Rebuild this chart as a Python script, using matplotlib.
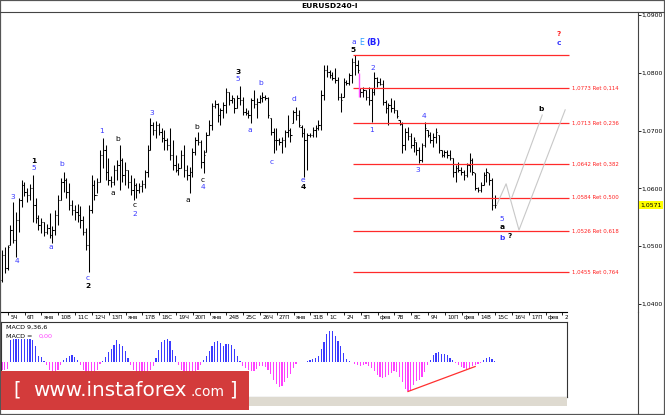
import numpy as np
import matplotlib
matplotlib.use("Agg")
import matplotlib.pyplot as plt
import matplotlib.transforms as mtransforms
from matplotlib.patches import Rectangle
from matplotlib.lines import Line2D

# ---------------- 4H bars, EURUSD ----------------
opens = [1.0442, 1.0485, 1.0462, 1.0502, 1.0528, 1.0511, 1.0545, 1.0580, 1.0606, 1.0594,
         1.0589, 1.0601, 1.0571, 1.0549, 1.0537, 1.0542, 1.0525, 1.0532, 1.0519, 1.0528,
         1.0554, 1.0580, 1.0611, 1.0615, 1.0594, 1.0571, 1.0563, 1.0559, 1.0554, 1.0545,
         1.0525, 1.0502, 1.0563, 1.0606, 1.0589, 1.0611, 1.0658, 1.0666, 1.0628, 1.0615,
         1.0611, 1.0632, 1.0641, 1.0649, 1.0623, 1.0632, 1.0611, 1.0597, 1.0606, 1.0597,
         1.0604, 1.0608, 1.0628, 1.0666, 1.0710, 1.0701, 1.0710, 1.0698, 1.0687, 1.0684,
         1.0675, 1.0658, 1.0641, 1.0632, 1.0635, 1.0658, 1.0632, 1.0623, 1.0628, 1.0663,
         1.0684, 1.0680, 1.0646, 1.0663, 1.0692, 1.0710, 1.0743, 1.0746, 1.0727, 1.0736,
         1.0744, 1.0767, 1.0753, 1.0756, 1.0739, 1.0756, 1.0753, 1.0732, 1.0730, 1.0727,
         1.0753, 1.0746, 1.0749, 1.0756, 1.0758, 1.0756, 1.0722, 1.0698, 1.0684, 1.0684,
         1.0680, 1.0684, 1.0698, 1.0701, 1.0713, 1.0732, 1.0727, 1.0706, 1.0696, 1.0684,
         1.0692, 1.0692, 1.0701, 1.0705, 1.0710, 1.0762, 1.0805, 1.0801, 1.0796, 1.0791,
         1.0788, 1.0758, 1.0758, 1.0784, 1.0782, 1.0796, 1.0819, 1.0814, 1.0774, 1.0767,
         1.0770, 1.0758, 1.0753, 1.0767, 1.0791, 1.0784, 1.0781, 1.0749, 1.0739, 1.0744,
         1.0739, 1.0736, 1.0718, 1.0711, 1.0675, 1.0698, 1.0691, 1.0675, 1.0680, 1.0666,
         1.0649, 1.0675, 1.0701, 1.0692, 1.0684, 1.0689, 1.0692, 1.0666, 1.0658, 1.0663,
         1.0658, 1.0653, 1.0628, 1.0635, 1.0632, 1.0628, 1.0623, 1.0641, 1.0649, 1.0627,
         1.0601, 1.0597, 1.0606, 1.0623, 1.0627, 1.0615, 1.0571]
highs = [1.0493, 1.0499, 1.0502, 1.0537, 1.0576, 1.0559, 1.0583, 1.0615, 1.0611, 1.0601,
         1.0608, 1.0623, 1.0583, 1.0554, 1.0549, 1.0542, 1.0538, 1.0557, 1.0535, 1.0563,
         1.0589, 1.0618, 1.0628, 1.0618, 1.0609, 1.0580, 1.0571, 1.0573, 1.0570, 1.0552,
         1.0532, 1.0571, 1.0623, 1.0615, 1.0618, 1.0666, 1.0687, 1.0675, 1.0653, 1.0621,
         1.0641, 1.0649, 1.0675, 1.0653, 1.0646, 1.0632, 1.0623, 1.0618, 1.0609, 1.0609,
         1.0615, 1.0632, 1.0675, 1.0722, 1.0715, 1.0717, 1.0713, 1.0705, 1.0701, 1.0687,
         1.0705, 1.0684, 1.0658, 1.0644, 1.0666, 1.0675, 1.0641, 1.0637, 1.0670, 1.0689,
         1.0698, 1.0684, 1.0666, 1.0698, 1.0718, 1.0748, 1.0753, 1.0748, 1.0739, 1.0749,
         1.0774, 1.0767, 1.0762, 1.0756, 1.0762, 1.0777, 1.0758, 1.0739, 1.0736, 1.0756,
         1.0770, 1.0756, 1.0762, 1.0767, 1.0762, 1.0758, 1.0722, 1.0705, 1.0705, 1.0687,
         1.0689, 1.0701, 1.0727, 1.0705, 1.0736, 1.0741, 1.0736, 1.0710, 1.0705, 1.0696,
         1.0696, 1.0706, 1.0710, 1.0718, 1.0770, 1.0814, 1.0814, 1.0805, 1.0801, 1.0808,
         1.0793, 1.0765, 1.0791, 1.0788, 1.0800, 1.0826, 1.0831, 1.0822, 1.0774, 1.0775,
         1.0770, 1.0775, 1.0774, 1.0801, 1.0793, 1.0791, 1.0788, 1.0753, 1.0748, 1.0756,
         1.0753, 1.0736, 1.0718, 1.0715, 1.0705, 1.0706, 1.0696, 1.0689, 1.0680, 1.0672,
         1.0679, 1.0715, 1.0701, 1.0698, 1.0696, 1.0705, 1.0692, 1.0666, 1.0666, 1.0666,
         1.0666, 1.0653, 1.0641, 1.0646, 1.0637, 1.0632, 1.0644, 1.0661, 1.0653, 1.0627,
         1.0602, 1.0611, 1.0628, 1.0635, 1.0627, 1.0618, 1.0589]
lows = [1.0438, 1.0454, 1.0459, 1.0502, 1.0506, 1.0481, 1.0525, 1.0568, 1.0587, 1.0576,
        1.0580, 1.0542, 1.0540, 1.0528, 1.0523, 1.0518, 1.0521, 1.0514, 1.0506, 1.0519,
        1.0537, 1.0580, 1.0594, 1.0583, 1.0563, 1.0554, 1.0545, 1.0542, 1.0532, 1.0519,
        1.0493, 1.0455, 1.0557, 1.0580, 1.0592, 1.0611, 1.0635, 1.0615, 1.0606, 1.0602,
        1.0606, 1.0615, 1.0597, 1.0611, 1.0606, 1.0601, 1.0589, 1.0580, 1.0583, 1.0592,
        1.0594, 1.0601, 1.0620, 1.0666, 1.0692, 1.0687, 1.0692, 1.0680, 1.0666, 1.0666,
        1.0649, 1.0632, 1.0628, 1.0623, 1.0635, 1.0620, 1.0615, 1.0592, 1.0620, 1.0658,
        1.0675, 1.0635, 1.0627, 1.0663, 1.0692, 1.0701, 1.0739, 1.0715, 1.0710, 1.0722,
        1.0730, 1.0744, 1.0748, 1.0730, 1.0739, 1.0744, 1.0727, 1.0727, 1.0722, 1.0713,
        1.0739, 1.0722, 1.0748, 1.0749, 1.0753, 1.0722, 1.0692, 1.0661, 1.0666, 1.0675,
        1.0661, 1.0672, 1.0689, 1.0680, 1.0713, 1.0718, 1.0706, 1.0689, 1.0620, 1.0632,
        1.0689, 1.0689, 1.0689, 1.0701, 1.0701, 1.0753, 1.0793, 1.0791, 1.0788, 1.0782,
        1.0753, 1.0732, 1.0758, 1.0779, 1.0779, 1.0782, 1.0796, 1.0800, 1.0758, 1.0758,
        1.0753, 1.0744, 1.0715, 1.0762, 1.0775, 1.0779, 1.0744, 1.0730, 1.0710, 1.0732,
        1.0730, 1.0722, 1.0710, 1.0661, 1.0666, 1.0684, 1.0670, 1.0663, 1.0658, 1.0644,
        1.0646, 1.0672, 1.0689, 1.0679, 1.0672, 1.0679, 1.0661, 1.0654, 1.0654, 1.0653,
        1.0649, 1.0620, 1.0611, 1.0628, 1.0623, 1.0615, 1.0620, 1.0628, 1.0623, 1.0597,
        1.0594, 1.0594, 1.0606, 1.0611, 1.0606, 1.0563, 1.0566]
closes = [1.0485, 1.0462, 1.0499, 1.0528, 1.0511, 1.0545, 1.0580, 1.0606, 1.0594, 1.0589,
          1.0601, 1.0571, 1.0549, 1.0537, 1.0542, 1.0525, 1.0532, 1.0519, 1.0528, 1.0554,
          1.0580, 1.0611, 1.0615, 1.0594, 1.0571, 1.0563, 1.0559, 1.0554, 1.0545, 1.0525,
          1.0502, 1.0563, 1.0606, 1.0589, 1.0611, 1.0658, 1.0666, 1.0628, 1.0615, 1.0611,
          1.0632, 1.0641, 1.0649, 1.0623, 1.0632, 1.0611, 1.0597, 1.0606, 1.0597, 1.0604,
          1.0608, 1.0628, 1.0666, 1.0710, 1.0701, 1.0710, 1.0698, 1.0687, 1.0684, 1.0675,
          1.0658, 1.0641, 1.0632, 1.0635, 1.0658, 1.0632, 1.0623, 1.0628, 1.0663, 1.0684,
          1.0680, 1.0646, 1.0658, 1.0692, 1.0710, 1.0743, 1.0746, 1.0727, 1.0736, 1.0744,
          1.0767, 1.0753, 1.0756, 1.0739, 1.0756, 1.0753, 1.0732, 1.0730, 1.0727, 1.0753,
          1.0746, 1.0749, 1.0756, 1.0758, 1.0756, 1.0727, 1.0698, 1.0684, 1.0684, 1.0680,
          1.0684, 1.0698, 1.0701, 1.0692, 1.0732, 1.0727, 1.0710, 1.0696, 1.0684, 1.0692,
          1.0692, 1.0701, 1.0705, 1.0710, 1.0762, 1.0805, 1.0801, 1.0796, 1.0791, 1.0788,
          1.0758, 1.0753, 1.0784, 1.0782, 1.0796, 1.0819, 1.0814, 1.0805, 1.0767, 1.0770,
          1.0758, 1.0753, 1.0767, 1.0791, 1.0784, 1.0781, 1.0749, 1.0739, 1.0744, 1.0739,
          1.0736, 1.0725, 1.0711, 1.0675, 1.0698, 1.0691, 1.0675, 1.0684, 1.0666, 1.0649,
          1.0675, 1.0705, 1.0692, 1.0684, 1.0689, 1.0698, 1.0666, 1.0658, 1.0663, 1.0658,
          1.0653, 1.0628, 1.0635, 1.0632, 1.0628, 1.0623, 1.0641, 1.0649, 1.0628, 1.0601,
          1.0597, 1.0606, 1.0623, 1.0628, 1.0615, 1.0571, 1.0571]

# MACD(9,36,6) histogram, in 1e-5 units
macd_hist = [-32, -32, -28, 88, 92, 92, 92, 92, 92, 92, 92, 88, 64, 24, 20, 4,
             -12, -32, -36, -36, -32, -12,
             8, 16, 24, 28, 20, 8,
             -12, -32, -40, -44, -40, -36, -32, -8,
             4, 20, 40, 52, 68, 88, 72, 64, 44, 16,
             -12, -32, -40, -44, -48, -44, -40, -32, -16,
             16, 48, 80, 88, 92, 84, 48, 24,
             -12, -32, -40, -44, -48, -44, -40, -32, -12,
             8, 24, 44, 64, 80, 84, 76, 64, 72, 72, 68, 52, 24, 4,
             -16, -24, -32, -36, -36, -28, -16, -16, -20, -32, -48, -72, -88, -100, -96,
             -80, -64, -48, -24, -8,
             0, 0, 0, 4, 8, 12, 16, 24, 52, 80, 112, 124, 124, 104, 84, 64, 36, 12, 4, 0,
             -8, -12, -16, -12, -8, -16, -24, -36, -52, -60, -64, -60, -52, -44, -36, -40,
             -60, -80, -108, -116, -112, -92, -76, -72, -60, -40, -12,
             8, 28, 36, 40, 32, 32, 28, 16, 8,
             -4, -12, -20, -24, -28, -24, -16, -12, -8, -4,
             8, 16, 20, 12, 4]

day_labels = ["5Ч", "6П", "янв", "10В", "11С", "12Ч", "13П", "янв", "17В", "18С", "19Ч",
              "20П", "янв", "24В", "25С", "26Ч", "27П", "янв", "31В", "1С", "2Ч", "3П",
              "фев", "7В", "8С", "9Ч", "10П", "фев", "14В", "15С", "16Ч", "17П", "фев", "2"]

# fibonacci retracement of the last decline
fib_top = 1.0830
fib_levels = [1.0773, 1.0713, 1.0642, 1.0584, 1.0526, 1.0455]
fib_ratios = ["0,114", "0,236", "0,382", "0,500", "0,618", "0,764"]

# projected path (bar index, price)
proj_a_x = [176.8, 180.0, 184.6, 201.1]
proj_a_y = [1.0573, 1.0608, 1.0528, 1.0736]
proj_b_x = [182.1, 192.9]
proj_b_y = [1.0585, 1.0727]

BLUE = "#3a3aff"
BLK = "black"
# wave marks: bar index, price, text, colour, bold
waves = [
    (3.9, 1.0585, "3", BLUE, False), (5.4, 1.0474, "4", BLUE, False),
    (11.4, 1.0647, "1", BLK, True), (11.4, 1.0635, "5", BLUE, False),
    (21.4, 1.0642, "b", BLUE, False), (17.5, 1.0499, "a", BLUE, False),
    (30.7, 1.0445, "c", BLUE, False), (30.7, 1.0432, "2", BLK, True),
    (35.4, 1.0699, "1", BLUE, False), (41.4, 1.0685, "b", BLK, False),
    (39.6, 1.0592, "a", BLK, False), (47.5, 1.0572, "c", BLK, False),
    (47.5, 1.0556, "2", BLUE, False), (53.6, 1.0730, "3", BLUE, False),
    (66.4, 1.0580, "a", BLK, False), (69.6, 1.0706, "b", BLK, False),
    (71.8, 1.0615, "c", BLK, False), (71.8, 1.0602, "4", BLUE, False),
    (84.3, 1.0801, "3", BLK, True), (84.3, 1.0789, "5", BLUE, False),
    (88.6, 1.0701, "a", BLUE, False), (92.5, 1.0782, "b", BLUE, False),
    (96.4, 1.0646, "c", BLUE, False), (104.3, 1.0755, "d", BLUE, False),
    (107.5, 1.0614, "e", BLUE, False), (107.5, 1.0602, "4", BLK, True),
    (125.4, 1.0839, "5", BLK, True), (132.5, 1.0808, "2", BLUE, False),
    (131.8, 1.0701, "1", BLUE, False), (148.6, 1.0632, "3", BLUE, False),
    (150.7, 1.0725, "4", BLUE, False), (178.6, 1.0547, "5", BLUE, False),
    (178.6, 1.0533, "a", BLK, True), (178.6, 1.0514, "b", BLUE, True),
    (181.1, 1.0518, "?", BLK, True), (192.5, 1.0738, "b", BLK, True),
    (198.9, 1.0867, "?", "#ff2020", True), (198.9, 1.0852, "c", BLUE, True),
]

W, H = 665, 415
fig = plt.figure(figsize=(W / 100, H / 100), dpi=100)
fig.patch.set_facecolor("white")


def fx(px):
    return px / W


def fy(py):
    return 1 - py / H


# ---------- main price panel ----------
ax = fig.add_axes([fx(1), fy(312), fx(637), 300 / H])
x = np.arange(len(closes))
ax.vlines(x, lows, highs, color=BLK, lw=0.75)
ax.hlines(opens, x - 0.45, x, color=BLK, lw=0.75)
ax.hlines(closes, x, x + 0.45, color=BLK, lw=0.75)
ax.set_xlim(-0.36, 227.1)
ax.set_ylim(1.03862, 1.09052)

for s in ["top", "left"]:
    ax.spines[s].set_visible(False)
ax.spines["right"].set_linewidth(0.8)
ax.spines["right"].set_color("#444444")
ax.spines["bottom"].set_bounds(-0.36, 201.8)
ax.spines["bottom"].set_linewidth(0.8)

ax.yaxis.tick_right()
yt = [1.04, 1.05, 1.06, 1.07, 1.08, 1.09]
ax.set_yticks(yt)
ax.set_yticklabels([f"{v:.4f}".replace(".", ",") for v in yt])
ax.tick_params(axis="y", length=2, width=0.6, labelsize=4.4, pad=0.6)

xt = [6 * k + 2.1 for k in range(len(day_labels))]
ax.set_xticks(xt)
ax.set_xticklabels([])
ax.tick_params(axis="x", length=2.5, width=0.6, direction="out")
trans = mtransforms.blended_transform_factory(ax.transData, ax.transAxes)
for p, lab in zip(xt, day_labels):
    ax.text(p + 0.8, -0.009, lab, transform=trans, fontsize=4.1, va="top", ha="left")

# fibonacci lines
ax.hlines([fib_top] + fib_levels, 125.4, 202.5, color="#ff2a2a", lw=0.9)
for lv, r in zip(fib_levels, fib_ratios):
    ax.text(203.6, lv, f"{lv:.4f}".replace(".", ",") + " Ret " + r,
            fontsize=3.9, color="#ff2020", va="center", ha="left")

# marker line and projected path
ax.vlines(127.5, 1.0758, 1.0800, color="#ff55ff", lw=1.0)
ax.plot(proj_a_x, proj_a_y, color="#c8c8c8", lw=0.8)
ax.plot(proj_b_x, proj_b_y, color="#c8c8c8", lw=0.8)

for wx, wy, t, c, b in waves:
    ax.text(wx, wy, t, color=c, fontsize=5.4, ha="center", va="center",
            fontweight="bold" if b else "normal")
ax.text(125.7, 1.0853, "a", color=BLUE, fontsize=5.4, ha="center", va="center")
ax.text(128.6, 1.0853, "E", color="#2a9dff", fontsize=5.6, ha="center", va="center")
ax.text(132.6, 1.0853, "(B)", color="#2020ff", fontsize=6.2, ha="center", va="center",
        fontweight="bold")

# current price tag
tr_y = mtransforms.blended_transform_factory(ax.transAxes, ax.transData)
ax.text(1.0035, closes[-1], f"{closes[-1]:.4f}".replace(".", ","), transform=tr_y,
        fontsize=4.4, va="center", ha="left",
        bbox=dict(boxstyle="square,pad=0.2", fc="#ffff00", ec="none"))

# ---------- MACD panel ----------
ax2 = fig.add_axes([fx(1), fy(397), fx(566), 75 / H])
mh = np.array(macd_hist) * 1e-5
cols = ["#3a3aff" if v >= 0 else "#ff40ff" for v in mh]
ax2.bar(np.arange(len(mh)), mh, width=0.42, color=cols, linewidth=0)
ax2.set_xlim(-0.36, 201.79)
ax2.set_ylim(-0.0014, 0.0016)
ax2.set_xticks([])
ax2.set_yticks([])
for s in ax2.spines.values():
    s.set_linewidth(0.8)
    s.set_color("#333333")
ax2.plot([145, 169], [-0.00118, -0.00018], color="#ff3030", lw=0.9)
ax2.text(0.008, 0.93, "MACD 9,36,6", transform=ax2.transAxes, fontsize=4.6,
         va="center", ha="left")
ax2.text(0.008, 0.81, "MACD =", transform=ax2.transAxes, fontsize=4.6,
         va="center", ha="left")
ax2.text(0.066, 0.81, "0,00", transform=ax2.transAxes, fontsize=4.6,
         va="center", ha="left", color="#ff40ff")

# ---------- frame, title, watermark ----------
fig.add_artist(Rectangle((fx(1), fy(406)), fx(566), 9 / H, transform=fig.transFigure,
                         fc="#dedad0", ec="none"))
fig.add_artist(Line2D([0, 1], [fy(12)] * 2, transform=fig.transFigure,
                      color="#444444", lw=0.8))
fig.add_artist(Line2D([fx(638)] * 2, [fy(414), fy(312)], transform=fig.transFigure,
                      color="#444444", lw=0.8))
fig.add_artist(Rectangle((0, 0), 1, 1, transform=fig.transFigure, fill=False,
                         ec="#555555", lw=1.6))
fig.text(fx(330), fy(6), "EURUSD240-I", fontsize=5.4, fontweight="bold",
         ha="center", va="center")

fig.add_artist(Rectangle((fx(1), fy(410)), fx(248), 39 / H, transform=fig.transFigure,
                         fc="#d33b3b", ec="none"))
fig.text(fx(17), fy(390), "[", color="white", fontsize=14, ha="center", va="center")
fig.text(fx(33), fy(390), "www.instaforex", color="white", fontsize=14.4,
         ha="left", va="center")
fig.text(fx(190), fy(392), ".com", color="white", fontsize=10, ha="left", va="center")
fig.text(fx(233), fy(390), "]", color="white", fontsize=14, ha="center", va="center")

fig.savefig("out.png", dpi=100, facecolor="white")
